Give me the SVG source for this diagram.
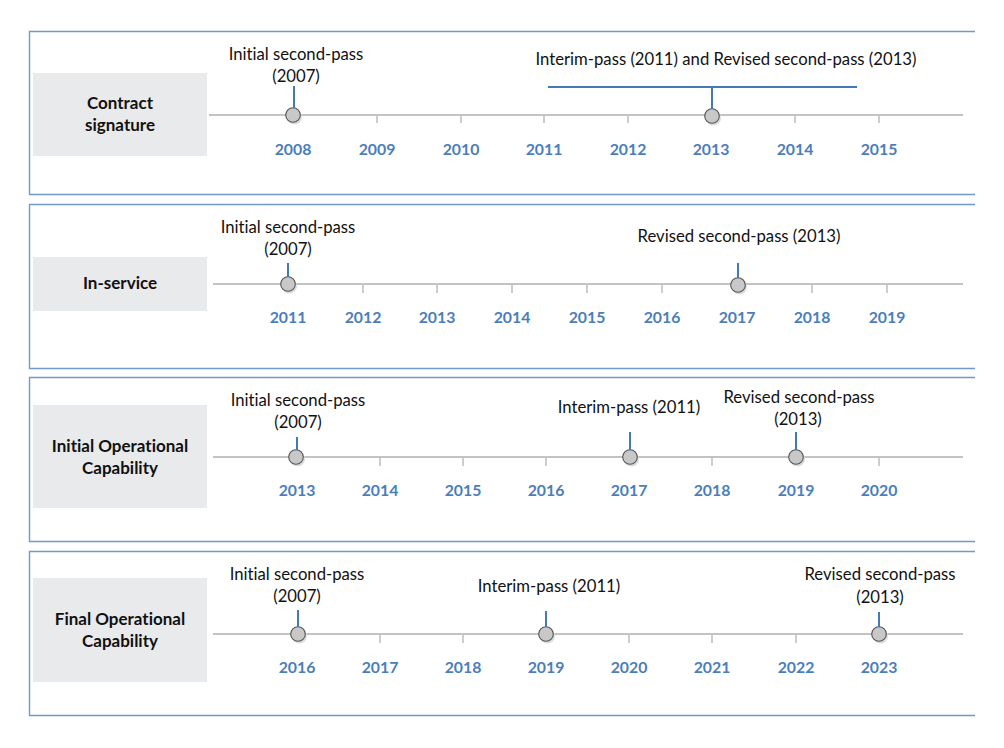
<svg xmlns="http://www.w3.org/2000/svg" width="1004" height="748" viewBox="0 0 1004 748">
<style>
text{font-variant-ligatures:none;font-feature-settings:"liga" 0}
.frame{fill:none;stroke:#7199cb;stroke-width:1.4}
.lbox{fill:#e9eaec}
.ltxt{font-family:Lato,"Liberation Sans",sans-serif;font-weight:bold;font-size:17px;fill:#111;text-anchor:middle}
.axis{stroke:#c3c3c3;stroke-width:2;fill:none}
.tick{stroke:#bdbdbd;stroke-width:1.5}
.yr{font-family:Lato,"Liberation Sans",sans-serif;font-weight:bold;font-size:15.8px;fill:#4a7ebb;text-anchor:middle}
.ev{font-family:Lato,"Liberation Sans",sans-serif;font-size:16.7px;fill:#111;text-anchor:middle}
.stem{stroke:#4479b8;stroke-width:2;fill:none}
.dot{fill:#c8c8c8;stroke:#555;stroke-width:1.1}
.sh{fill:#dcdcdc}
</style>
<defs>
<g id="mk"><circle class="sh" cx="1.5" cy="2" r="7.5"/><circle class="dot" cx="0" cy="0" r="7.3"/></g>
</defs>
<rect width="1004" height="748" fill="#fff"/>

<g id="panel-contract">
<path class="frame" d="M975 31.5H29.5V194.5H975"/>
<rect class="lbox" x="33" y="73" width="174" height="83"/>
<text class="ltxt" x="120" y="109">Contract</text>
<text class="ltxt" x="120" y="131">signature</text>
<line class="axis" x1="209" y1="115" x2="963" y2="115"/>
<g class="tick"><line x1="377" y1="116" x2="377" y2="123"/><line x1="461" y1="116" x2="461" y2="123"/><line x1="544" y1="116" x2="544" y2="123"/><line x1="628" y1="116" x2="628" y2="123"/><line x1="795" y1="116" x2="795" y2="123"/><line x1="879" y1="116" x2="879" y2="123"/></g>
<g class="yr"><text x="293" y="155">2008</text><text x="377" y="155">2009</text><text x="461" y="155">2010</text><text x="544" y="155">2011</text><text x="628" y="155">2012</text><text x="711" y="155">2013</text><text x="795" y="155">2014</text><text x="879" y="155">2015</text></g>
<text class="ev" x="296" y="60">Initial second-pass</text>
<text class="ev" x="296" y="82">(2007)</text>
<text class="ev" x="726" y="65">Interim-pass (2011) and Revised second-pass (2013)</text>
<use href="#mk" x="293" y="115"/>
<use href="#mk" x="712" y="116"/>
</g>

<g id="panel-inservice">
<path class="frame" d="M975 204.5H29.5V368.5H975"/>
<rect class="lbox" x="33" y="257" width="174" height="54"/>
<text class="ltxt" x="120" y="289">In-service</text>
<line class="axis" x1="213" y1="284" x2="963" y2="284"/>
<g class="tick"><line x1="363" y1="285" x2="363" y2="293"/><line x1="437" y1="285" x2="437" y2="293"/><line x1="512" y1="285" x2="512" y2="293"/><line x1="587" y1="285" x2="587" y2="293"/><line x1="662" y1="285" x2="662" y2="293"/><line x1="812" y1="285" x2="812" y2="293"/><line x1="887" y1="285" x2="887" y2="293"/></g>
<g class="yr"><text x="288" y="323">2011</text><text x="363" y="323">2012</text><text x="437" y="323">2013</text><text x="512" y="323">2014</text><text x="587" y="323">2015</text><text x="662" y="323">2016</text><text x="737" y="323">2017</text><text x="812" y="323">2018</text><text x="887" y="323">2019</text></g>
<text class="ev" x="288" y="233">Initial second-pass</text>
<text class="ev" x="288" y="255">(2007)</text>
<text class="ev" x="739" y="242">Revised second-pass (2013)</text>
<use href="#mk" x="288" y="284"/>
<use href="#mk" x="738" y="285"/>
</g>

<g id="panel-ioc">
<path class="frame" d="M975 377.5H29.5V541.5H975"/>
<rect class="lbox" x="33" y="405" width="174" height="103"/>
<text class="ltxt" x="120" y="452">Initial Operational</text>
<text class="ltxt" x="120" y="474">Capability</text>
<line class="axis" x1="213" y1="457" x2="963" y2="457"/>
<g class="tick"><line x1="380" y1="458" x2="380" y2="466"/><line x1="463" y1="458" x2="463" y2="466"/><line x1="546" y1="458" x2="546" y2="466"/><line x1="712" y1="458" x2="712" y2="466"/><line x1="879" y1="458" x2="879" y2="466"/></g>
<g class="yr"><text x="297" y="496">2013</text><text x="380" y="496">2014</text><text x="463" y="496">2015</text><text x="546" y="496">2016</text><text x="629" y="496">2017</text><text x="712" y="496">2018</text><text x="796" y="496">2019</text><text x="879" y="496">2020</text></g>
<text class="ev" x="298" y="406">Initial second-pass</text>
<text class="ev" x="298" y="428">(2007)</text>
<text class="ev" x="629" y="413">Interim-pass (2011)</text>
<text class="ev" x="799" y="403">Revised second-pass</text>
<text class="ev" x="798" y="425">(2013)</text>
<use href="#mk" x="296" y="457"/>
<use href="#mk" x="630" y="457"/>
<use href="#mk" x="796" y="457"/>
</g>

<g id="panel-foc">
<path class="frame" d="M975 551.5H29.5V715.5H975"/>
<rect class="lbox" x="33" y="578" width="174" height="104"/>
<text class="ltxt" x="120" y="625">Final Operational</text>
<text class="ltxt" x="120" y="647">Capability</text>
<line class="axis" x1="213" y1="634" x2="963" y2="634"/>
<g class="tick"><line x1="380" y1="635" x2="380" y2="643"/><line x1="463" y1="635" x2="463" y2="643"/><line x1="629" y1="635" x2="629" y2="643"/><line x1="712" y1="635" x2="712" y2="643"/><line x1="796" y1="635" x2="796" y2="643"/></g>
<g class="yr"><text x="297" y="673">2016</text><text x="380" y="673">2017</text><text x="463" y="673">2018</text><text x="546" y="673">2019</text><text x="629" y="673">2020</text><text x="712" y="673">2021</text><text x="796" y="673">2022</text><text x="879" y="673">2023</text></g>
<text class="ev" x="297" y="580">Initial second-pass</text>
<text class="ev" x="297" y="602">(2007)</text>
<text class="ev" x="549" y="592">Interim-pass (2011)</text>
<text class="ev" x="880" y="580">Revised second-pass</text>
<text class="ev" x="880" y="603">(2013)</text>
<use href="#mk" x="298" y="634"/>
<use href="#mk" x="546" y="634"/>
<use href="#mk" x="879" y="634"/>
</g>

<g id="connectors">
<line class="stem" x1="294" y1="86" x2="294" y2="108"/>
<line class="stem" x1="548" y1="87" x2="857" y2="87"/>
<line class="stem" x1="712" y1="87" x2="712" y2="109"/>
<line class="stem" x1="288" y1="263" x2="288" y2="277"/>
<line class="stem" x1="738" y1="263" x2="738" y2="278"/>
<line class="stem" x1="297" y1="437" x2="297" y2="450"/>
<line class="stem" x1="630" y1="432" x2="630" y2="450"/>
<line class="stem" x1="796" y1="432" x2="796" y2="450"/>
<line class="stem" x1="298" y1="610" x2="298" y2="627"/>
<line class="stem" x1="546" y1="611" x2="546" y2="627"/>
<line class="stem" x1="879" y1="612" x2="879" y2="627"/>
</g>
</svg>
